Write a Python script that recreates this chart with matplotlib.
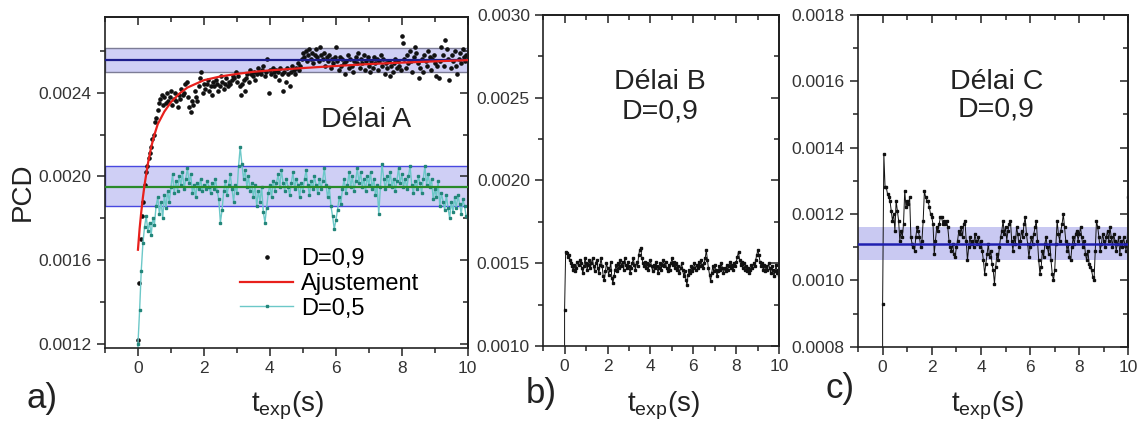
import numpy as np
import matplotlib
matplotlib.use('Agg')
import matplotlib.pyplot as plt
from matplotlib.ticker import MultipleLocator, FormatStrFormatter

plt.rcParams['font.family'] = ['Liberation Sans', 'DejaVu Sans']
plt.rcParams['mathtext.fontset'] = 'custom'
plt.rcParams['mathtext.rm'] = 'Liberation Sans'
plt.rcParams['mathtext.it'] = 'Liberation Sans'

# ---- data (PCD values in units of 1e-5) ----
dt_a09 = 0.04   # sampling step of the D=0,9 series in panel a (s)
dt = 0.05       # sampling step of the other series (s)

pcd_a09 = [
    122, 149, 170, 181, 188, 196, 202, 205, 209, 211, 214, 218, 220, 226, 228, 232, 235, 237, 239, 234,
    238, 235, 240, 236, 238, 241, 234, 237, 240, 236, 233, 239, 237, 242, 239, 240, 244, 245, 238, 233,
    231, 236, 234, 241, 238, 236, 243, 247, 250, 240, 244, 242, 244, 246, 241, 243, 239, 245, 243, 246,
    244, 241, 243, 248, 245, 242, 244, 247, 243, 245, 244, 246, 248, 247, 250, 245, 248, 243, 239, 244,
    246, 241, 247, 249, 245, 251, 249, 248, 250, 246, 249, 252, 250, 249, 251, 253, 248, 250, 256, 240,
    251, 249, 252, 250, 248, 251, 250, 246, 252, 249, 241, 250, 245, 252, 249, 243, 250, 253, 251, 249,
    252, 254, 251, 253, 256, 259, 257, 260, 255, 258, 261, 256, 259, 254, 258, 261, 257, 255, 262, 258,
    256, 259, 253, 257, 255, 258, 252, 256, 254, 257, 262, 255, 251, 257, 253, 256, 254, 249, 255, 258,
    252, 256, 253, 250, 255, 257, 254, 259, 252, 256, 254, 258, 251, 255, 257, 253, 250, 255, 252, 257,
    254, 256, 251, 255, 258, 253, 256, 249, 254, 252, 255, 248, 253, 250, 254, 256, 252, 255, 253, 251,
    267, 264, 256, 252, 258, 254, 260, 255, 250, 257, 262, 259, 254, 247, 252, 256, 250, 258, 255, 253,
    260, 257, 251, 256, 258, 254, 248, 253, 247, 255, 262, 258, 253, 265, 261, 256, 246, 252, 258, 255,
    260, 253, 249, 256, 259, 254, 261, 257, 255, 258, 256,
]

fit_t = [0, 0.05, 0.1, 0.15, 0.2, 0.3, 0.4, 0.5, 0.6, 0.8, 1.0, 1.25, 1.5, 2.0,
         2.5, 3.0, 3.5, 4.0, 5.0, 6.0, 7.0, 8.0, 9.0, 10.0]
fit_pcd = [165, 175, 183, 190, 196, 206, 214, 220, 225, 231, 235.5, 239.5, 242.5, 246,
           247.8, 249, 250, 250.7, 251.8, 252.8, 253.7, 254.4, 255, 255.6]

# first value sits below the axis (start of the acquisition)
pcd_a05 = [
    0, 120, 136, 155, 168, 176, 181, 174, 178, 172, 180, 177, 186, 190, 182, 188, 180, 191, 185, 193, 188,
    195, 201, 192, 198, 193, 200, 196, 202, 194, 199, 204, 197, 201, 192, 196, 190, 197, 194, 199, 193,
    196, 194, 198, 195, 192, 197, 194, 199, 193, 189, 178, 184, 193, 198, 191, 196, 201, 194, 188, 196,
    192, 205, 214, 206, 199, 203, 195, 200, 193, 197, 190, 196, 186, 193, 188, 195, 183, 178, 185, 192,
    196, 190, 198, 193, 197, 201, 195, 203, 197, 193, 199, 195, 191, 197, 202, 194, 199, 196, 190, 197,
    193, 199, 203, 196, 191, 198, 194, 200, 196, 192, 199, 194, 198, 204, 196, 190, 195, 186, 181, 175,
    179, 184, 190, 187, 194, 199, 192, 196, 202, 195, 200, 193, 198, 204, 197, 202, 195, 199, 193, 200,
    196, 202, 194, 199, 191, 196, 182, 195, 206, 199, 194, 200, 196, 202, 195, 199, 193, 198, 204, 197,
    201, 195, 199, 194, 200, 205, 196, 192, 198, 194, 200, 197, 192, 199, 205, 196, 201, 195, 199, 189,
    194, 190, 198, 186, 192, 188, 184, 191, 185, 180, 188, 183, 190, 185, 191, 187, 182, 189, 186, 181,
    180,
]

pcd_b = [
    0, 122, 157, 156, 154, 155, 152, 150, 148, 146, 149, 145, 147, 151, 149, 152, 150, 147, 144, 148, 153,
    150, 146, 149, 152, 147, 150, 153, 148, 145, 150, 152, 147, 144, 149, 153, 148, 142, 140, 145, 150,
    147, 143, 146, 151, 141, 138, 142, 146, 149, 145, 150, 147, 152, 148, 151, 146, 153, 149, 147, 151,
    148, 144, 147, 150, 153, 149, 146, 151, 148, 155, 158, 159, 153, 150, 148, 151, 147, 150, 146, 149,
    152, 148, 145, 149, 147, 151, 148, 144, 147, 150, 146, 149, 152, 148, 151, 147, 145, 149, 146, 150,
    153, 149, 151, 147, 150, 146, 148, 144, 147, 150, 146, 142, 145, 140, 137, 143, 146, 144, 148, 145,
    147, 150, 146, 149, 147, 151, 148, 152, 149, 147, 150, 153, 158, 152, 147, 143, 139, 144, 148, 145,
    149, 146, 142, 145, 148, 146, 150, 147, 144, 147, 145, 149, 146, 148, 151, 147, 149, 146, 150, 148,
    151, 154, 157, 152, 149, 151, 147, 150, 146, 148, 145, 147, 144, 146, 149, 147, 150, 148, 152, 155,
    158, 155, 151, 148, 150, 146, 149, 145, 148, 146, 150, 147, 144, 148, 146, 142, 145, 149, 144, 146,
    143,
]

pcd_c = [
    0, 93, 138, 128, 128, 126, 125, 124, 121, 118, 120, 115, 124, 121, 118, 112, 115, 113, 117, 127, 122,
    124, 123, 125, 113, 111, 110, 109, 113, 116, 115, 113, 110, 112, 118, 127, 125, 124, 124, 122, 120,
    119, 117, 108, 112, 116, 115, 117, 119, 119, 117, 118, 117, 118, 116, 112, 110, 109, 111, 108, 107,
    110, 112, 115, 114, 116, 113, 117, 118, 112, 106, 110, 113, 111, 112, 110, 114, 112, 111, 113, 110,
    112, 109, 106, 102, 105, 108, 111, 107, 109, 105, 103, 99, 104, 108, 106, 110, 113, 115, 118, 114,
    116, 112, 115, 117, 118, 112, 109, 113, 111, 116, 114, 110, 112, 115, 113, 117, 119, 114, 111, 107,
    110, 113, 111, 114, 116, 118, 112, 106, 102, 104, 109, 107, 111, 113, 110, 108, 112, 106, 102, 100,
    103, 111, 118, 114, 112, 115, 117, 120, 116, 112, 109, 111, 107, 106, 110, 113, 111, 114, 115, 112,
    114, 116, 113, 110, 112, 108, 106, 109, 105, 104, 103, 101, 100, 109, 118, 116, 113, 109, 111, 114,
    112, 110, 113, 115, 112, 116, 113, 110, 114, 112, 109, 111, 113, 108, 112, 110, 113, 111, 109, 112,
    125,
]

# horizontal mean lines and +/- bands (units of 1e-5)
a09_mean, a09_lo, a09_hi = 255.5, 249.8, 261.2
a05_mean, a05_lo, a05_hi = 195.2, 185.8, 204.8
c_mean, c_lo, c_hi = 111.0, 106.0, 116.0

k = 1e-5
t_a09 = np.arange(len(pcd_a09)) * dt_a09
txt = '#222222'


def start_times(vals):
    # first (off-scale) point and the first measured point are both at t=0
    return np.concatenate([[0.0], np.arange(len(vals) - 1) * dt])


def style_axes(ax, ylim, ymaj, ymin):
    ax.set_xlim(-1, 10)
    ax.set_ylim(*ylim)
    ax.xaxis.set_major_locator(MultipleLocator(2))
    ax.xaxis.set_minor_locator(MultipleLocator(1))
    ax.yaxis.set_major_locator(MultipleLocator(ymaj))
    ax.yaxis.set_minor_locator(MultipleLocator(ymin))
    ax.yaxis.set_major_formatter(FormatStrFormatter('%.4f'))
    ax.tick_params(which='both', direction='out', width=1.1, colors='#222222',
                   labelsize=12.5, labelcolor='#333333')
    ax.tick_params(which='major', length=6)
    ax.tick_params(which='minor', length=3.5)
    for s in ax.spines.values():
        s.set_linewidth(1.2)
        s.set_color('#222222')
    top = ax.secondary_xaxis('top')
    top.xaxis.set_major_locator(MultipleLocator(2))
    top.xaxis.set_minor_locator(MultipleLocator(1))
    right = ax.secondary_yaxis('right')
    right.yaxis.set_major_locator(MultipleLocator(ymaj))
    right.yaxis.set_minor_locator(MultipleLocator(ymin))
    for sec in (top, right):
        sec.tick_params(which='both', direction='in', width=1.1, colors='#222222',
                        labeltop=False, labelright=False)
        sec.tick_params(which='major', length=6)
        sec.tick_params(which='minor', length=3.5)
        for s in sec.spines.values():
            s.set_linewidth(1.2)


fig = plt.figure(figsize=(11.41, 4.25), dpi=100)

# ---- panel a ----
ax = fig.add_axes([0.092, 0.181, 0.318, 0.779])
ax.axhspan(a09_lo * k, a09_hi * k, facecolor='#cfcff5', edgecolor='#7c7c96', lw=1.0, zorder=0)
ax.axhspan(a05_lo * k, a05_hi * k, facecolor='#cfcff5', edgecolor='#4848e0', lw=1.0, zorder=0)
ax.plot(t_a09, np.array(pcd_a09) * k, ls='none', marker='o', ms=2.3, color='#111111',
        label='D=0,9', zorder=2)
ax.plot(start_times(pcd_a05), np.array(pcd_a05) * k, color='#6cc8c8', lw=1.0, marker='s', ms=1.9,
        mfc='#23867a', mec='#23867a', label='D=0,5', zorder=2)
ax.axhline(a09_mean * k, color='#1c1c8c', lw=1.6, zorder=3)
ax.axhline(a05_mean * k, color='#2a8a2a', lw=1.6, zorder=3)
ax.plot(fit_t, np.array(fit_pcd) * k, color='#e8201c', lw=1.6, label='Ajustement', zorder=4)
style_axes(ax, (0.00118, 0.002762), 0.0004, 0.0002)
h, l = ax.get_legend_handles_labels()
order = [l.index('D=0,9'), l.index('Ajustement'), l.index('D=0,5')]
ax.legend([h[i] for i in order], [l[i] for i in order], loc='upper left',
          bbox_to_anchor=(0.372, 0.302), frameon=False, fontsize=17, numpoints=1,
          handlelength=2.25, handletextpad=0.35, labelspacing=0.12, borderpad=0,
          borderaxespad=0, markerscale=1.0)
ax.text(0.719, 0.689, 'Délai A', transform=ax.transAxes, ha='center', va='center',
        fontsize=20.5, color=txt)

# ---- panel b ----
ax = fig.add_axes([0.476, 0.186, 0.207, 0.779])
ax.plot(start_times(pcd_b), np.array(pcd_b) * k, color='#111111', lw=0.7, marker='s', ms=2.0)
style_axes(ax, (0.0010, 0.0030), 0.0005, 0.00025)
ax.text(0.496, 0.798, 'Délai B', transform=ax.transAxes, ha='center', va='center',
        fontsize=20.5, color=txt)
ax.text(0.496, 0.707, 'D=0,9', transform=ax.transAxes, ha='center', va='center',
        fontsize=20.5, color=txt)

# ---- panel c ----
ax = fig.add_axes([0.752, 0.184, 0.237, 0.781])
ax.axhspan(c_lo * k, c_hi * k, facecolor='#c9c9f2', edgecolor='none', zorder=0)
ax.plot(start_times(pcd_c), np.array(pcd_c) * k, color='#111111', lw=0.7, marker='s', ms=2.0,
        zorder=2)
ax.axhline(c_mean * k, color='#2020b0', lw=1.8, zorder=3)
style_axes(ax, (0.0008, 0.0018), 0.0002, 0.0001)
ax.text(0.511, 0.798, 'Délai C', transform=ax.transAxes, ha='center', va='center',
        fontsize=20.5, color=txt)
ax.text(0.511, 0.715, 'D=0,9', transform=ax.transAxes, ha='center', va='center',
        fontsize=20.5, color=txt)

# ---- figure-level labels ----
fig.text(0.020, 0.548, 'PCD', rotation=90, ha='center', va='center', fontsize=20, color=txt)
xlab = r'$\mathrm{t_{exp}(s)}$'
fig.text(0.2515, 0.045, xlab, ha='center', va='center', fontsize=20, color=txt)
fig.text(0.581, 0.045, xlab, ha='center', va='center', fontsize=20, color=txt)
fig.text(0.865, 0.045, xlab, ha='center', va='center', fontsize=20, color=txt)
fig.text(0.037, 0.062, 'a)', ha='center', va='center', fontsize=25, color=txt)
fig.text(0.474, 0.075, 'b)', ha='center', va='center', fontsize=25, color=txt)
fig.text(0.736, 0.085, 'c)', ha='center', va='center', fontsize=25, color=txt)

fig.savefig('out.png', dpi=100)
